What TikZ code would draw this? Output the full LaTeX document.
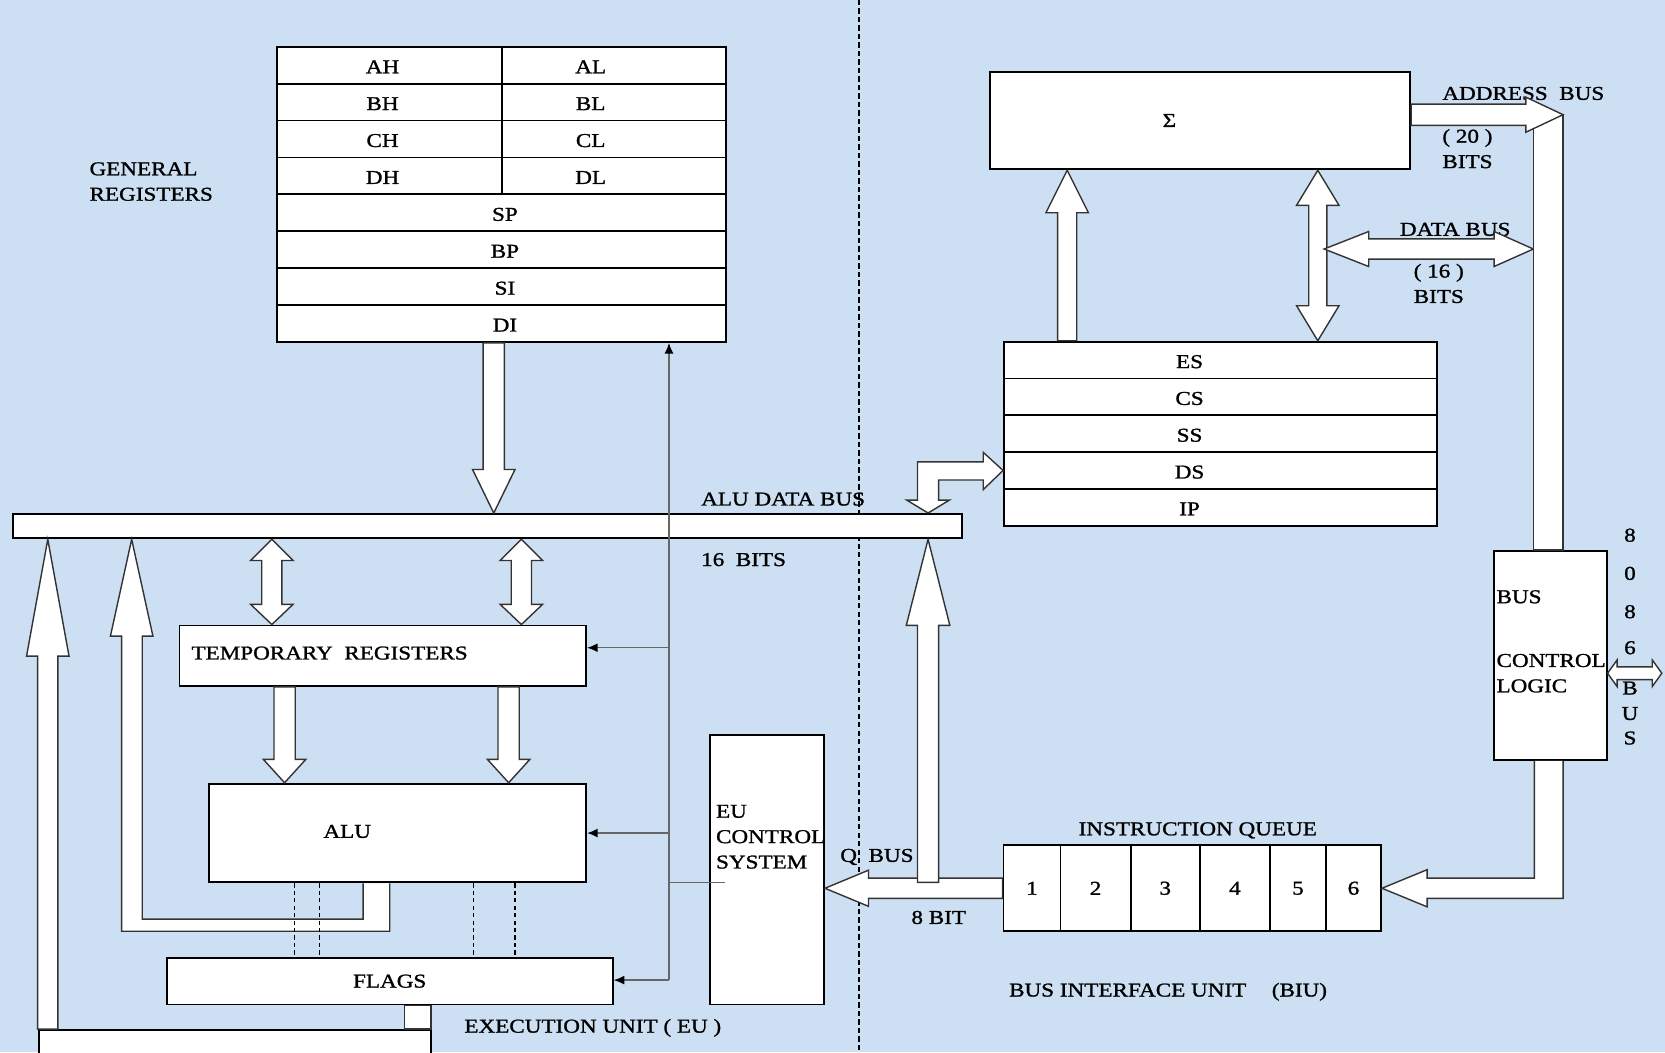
\documentclass[tikz,border=0pt]{standalone}
\usepackage{fontspec}
\setmainfont[FakeStretch=1.18,FakeBold=1.2]{Liberation Serif}
\usetikzlibrary{arrows.meta,calc,positioning}

\definecolor{paper}{RGB}{205,223,242}

% hollow bus arrows: [opts]{tail}{tip}{shaft half width}{head half width}{head length}
\newcommand{\blockarrow}[6][]{%
  \coordinate (bsa) at ($(#3)!#6*0.2mm!(#2)$);
  \draw[blockarr,#1] ($(#2)!#4*0.2mm!90:(#3)$) -- ($(bsa)!#4*0.2mm!-90:(#2)$)
    -- ($(bsa)!#5*0.2mm!-90:(#2)$) -- (#3) -- ($(bsa)!#5*0.2mm!90:(#2)$)
    -- ($(bsa)!#4*0.2mm!90:(#2)$) -- ($(#2)!#4*0.2mm!-90:(#3)$) -- cycle;}
% same with a head at both ends: ...{head length at tail}{head length at tip}
\newcommand{\dblockarrow}[7][]{%
  \coordinate (bsa) at ($(#2)!#6*0.2mm!(#3)$);
  \coordinate (bsb) at ($(#3)!#7*0.2mm!(#2)$);
  \draw[blockarr,#1] (#2) -- ($(bsa)!#5*0.2mm!90:(#3)$) -- ($(bsa)!#4*0.2mm!90:(#3)$)
    -- ($(bsb)!#4*0.2mm!-90:(#2)$) -- ($(bsb)!#5*0.2mm!-90:(#2)$) -- (#3)
    -- ($(bsb)!#5*0.2mm!90:(#2)$) -- ($(bsb)!#4*0.2mm!90:(#2)$)
    -- ($(bsa)!#4*0.2mm!-90:(#3)$) -- ($(bsa)!#5*0.2mm!-90:(#3)$) -- cycle;}

\begin{document}
\begin{tikzpicture}[x=0.2mm,y=-0.2mm,>={Latex[length=2mm,width=1.7mm,color=black]},
    box/.style 2 args={draw,fill=white,line width=1pt,minimum width=(#1)*0.2mm,minimum height=(#2)*0.2mm,inner sep=0pt},
    blockarr/.style={draw=black!80,fill=white,line width=0.75pt,line join=miter},
    wire/.style={black!60,line width=0.8pt},
    txt/.style={inner sep=0pt,anchor=west,align=left},
    every node/.style={font=\fontsize{10.5}{13.6}\selectfont}]
  \useasboundingbox (0,0) rectangle (1568,991);
  \clip (0,0) rectangle (1568,991);
  \fill[paper] (0,0) rectangle (1568,991);
  % EU | BIU border
  \draw[line width=0.6pt,dash pattern=on 1mm off 0.6mm] (809,0) -- (809,991);

  % general registers
  \foreach \l/\r [count=\i from 0] in {AH/AL,BH/BL,CH/CL,DH/DL}{
    \node[box={211.5}{34.75},label={[xshift=-1.3mm,yshift=-0.3mm]center:\l}] (\l) at (366.75,61.4+\i*34.75) {};
    \node[box={211.5}{34.75},label={[xshift=-4.4mm,yshift=-0.3mm]center:\r}] (\r) at (578.25,61.4+\i*34.75) {};
  }
  \foreach \n [count=\i from 4] in {SP,BP,SI,DI}
    \node[box={423}{34.75},label={[xshift=0.6mm,yshift=-0.3mm]center:\n}] (\n) at (472.5,61.4+\i*34.75) {};
  \node[txt] (genLbl) at (84,171) {GENERAL\\REGISTERS};

  % ALU data bus
  \node[box={894}{23}] (aluBus) at (459,495.5) {};
  \node[txt] (aluBusLbl) at (660,470) {ALU DATA BUS};
  \node[txt] (aluBits) at (660,527) {16\ \ BITS};

  % execution unit
  \node[box={383}{57}] (temp) at (360.5,617.5) {};
  \node[txt] (tempLbl) at (180,615) {TEMPORARY\ \ REGISTERS};
  \node[box={355}{93}] (alu) at (374.5,784.5) {};
  \node (aluLbl) at (327,783) {ALU};
  \node[box={420}{44}] (flags) at (367,924) {FLAGS};
  \node[box={369}{60}] (lowBox) at (221.5,1000) {};
  \node[box={107}{254}] (euCtl) at (722.5,819) {};
  \node[txt] (euCtlLbl) at (674,788) {EU\\CONTROL\\SYSTEM};
  \node[txt] (euLbl) at (437,968) {EXECUTION UNIT ( EU )};

  % bus interface unit
  \node[box={395.5}{92},label={[xshift=-5.8mm]center:Σ}] (sigma) at (1130.25,113.5) {};
  \foreach \n [count=\i from 0] in {ES,CS,SS,DS,IP}
    \node[box={407.5}{34.65},label={[xshift=-5.8mm,yshift=-0.3mm]center:\n}] (\n) at (1149.25,339.1+\i*34.65) {};
  \foreach \a/\b [count=\i] in {945/998.7,998.7/1064.8,1064.8/1129.9,1129.9/1196,1196/1248.7,1248.7/1300.6}
    \node[box={\b-\a}{81}] (q\i) at ({(\a+\b)/2},836.5) {\i};
  \node (iqLbl) at (1128,782) {INSTRUCTION QUEUE};
  \node[box={106}{197}] (busCtl) at (1460,617.15) {};
  \node[txt] (busLbl) at (1409,562) {BUS};
  \node[txt] (busCtlLbl) at (1409,634) {CONTROL\\LOGIC};
  \node[txt] (biuLbl) at (950,934) {BUS INTERFACE UNIT\hspace{4.8mm}(BIU)};
  \foreach \c/\y in {8/504,0/540,8/576,6/610,B/648,U/672,S/695}
    \node (ext\y) at (1535,\y) {\c};
  \node[txt] (addrLbl) at (1358,88) {ADDRESS\ \ BUS};
  \node[txt] (addrBits) at (1358,140) {( 20 )\\BITS};
  \node[txt] (dataLbl) at (1318,216) {DATA BUS};
  \node[txt] (dataBits) at (1331,267) {( 16 )\\BITS};
  \node[txt] (qLbl) at (791,807) {Q\ \ BUS};
  \node[txt] (qBits) at (858,864) {8 BIT};

  % control wires
  \coordinate (wireBot) at (630,923);
  \draw[wire,->] (wireBot) -- (wireBot |- DI.south);
  \draw[wire,->] (wireBot |- 0,610) -- (temp.east |- 0,610);
  \draw[wire,->] (wireBot |- alu.east) -- (alu.east);
  \draw[wire,->] (wireBot) -- (flags.east |- wireBot);
  \draw[wire] (wireBot |- 0,831) -- ($(euCtl.west |- 0,831)+(15,0)$);

  % EU buses
  \blockarrow{465,0 |- DI.south}{465,0 |- aluBus.north}{10}{20}{41}
  \foreach \x in {256,491}{\dblockarrow{\x,0 |- aluBus.south}{\x,0 |- temp.north}{9.5}{20}{20}{19}}
  \foreach \x in {268,479}{\blockarrow{\x,0 |- temp.south}{\x,0 |- alu.north}{10}{20}{22}}
  \blockarrow{45,0 |- lowBox.north}{45,0 |- aluBus.south}{9.5}{20}{110}
  \draw[blockarr] (342,0 |- alu.south) -- (342,865.5) -- (134,865.5) -- (134,599) -- (144,599)
    -- (124,0 |- aluBus.south) -- (104,599) -- (114.5,599) -- (114.5,877) -- (367,877) -- (367,0 |- alu.south);
  \draw[blockarr] (381,0 |- flags.south) rectangle (406,0 |- lowBox.north);
  \foreach \x in {277,301,446,485}
    \draw[line width=0.6pt,dash pattern=on 0.8mm off 0.6mm] (\x,0 |- alu.south) -- (\x,0 |- flags.north);

  % Q bus
  \blockarrow{q1.west}{euCtl.east |- q1.west}{9.5}{17}{41}
  \blockarrow{874,831}{874,0 |- aluBus.south}{10}{20.5}{81}
  \draw[blockarr] (864,435) -- (926,435) -- (926,426) -- (DS.west) -- (926,461) -- (926,452) -- (884,452)
    -- (884,471) -- (894,471) -- (874,0 |- aluBus.north) -- (854,471) -- (864,471) -- cycle;

  % BIU buses
  \blockarrow{1005,0 |- ES.north}{1005,0 |- sigma.south}{9}{20}{40}
  \dblockarrow{1241,0 |- sigma.south}{1241,0 |- ES.north}{8.5}{20}{33}{33}
  \dblockarrow{1247,234.5}{1444,234.5}{9.5}{16.5}{42}{37}
  \draw[blockarr] (1444,121) -- (1444,0 |- busCtl.north) -- (1472,0 |- busCtl.north) -- (1472,108);
  \blockarrow{sigma.east |- 0,108}{1472,108}{10}{16.5}{35}
  \draw[blockarr] (1445,0 |- busCtl.south) -- (1445,827) -- (1344,827) -- (1344,819) -- (q6.east)
    -- (1344,854) -- (1344,846) -- (1472,846) -- (1472,0 |- busCtl.south);
  \dblockarrow{busCtl.east |- 0,634}{1565,634}{6}{12.5}{9}{9}
\end{tikzpicture}
\end{document}
